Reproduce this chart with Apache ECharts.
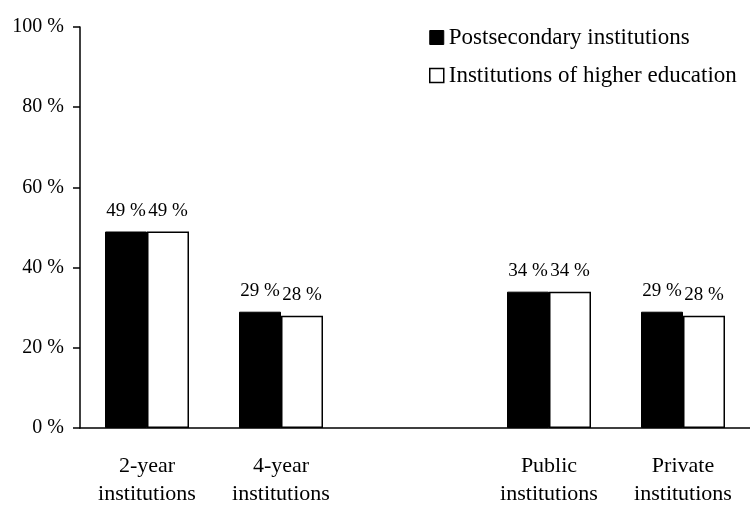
<!DOCTYPE html>
<html>
<head>
<meta charset="utf-8">
<script src="https://cdn.jsdelivr.net/npm/echarts@6/dist/echarts.min.js"></script>
<style>
  html, body { margin: 0; padding: 0; background: #fff; }
  #chart { width: 750px; height: 517px; }
</style>
</head>
<body>
<div id="chart"></div>
<script>
// empty slot between the two category groups
const categories = ['2-year\ninstitutions', '4-year\ninstitutions', '', 'Public\ninstitutions', 'Private\ninstitutions'];
const postsecondary = [49, 29, '-', 34, 29];
const higherEd = [49, 28, '-', 34, 28];
const seriesNames = ['Postsecondary institutions', 'Institutions of higher education'];
const yTicks = [0, 20, 40, 60, 80, 100];

const font = 'Liberation Serif';
const chart = echarts.init(document.getElementById('chart'));

const barLabel = {
    show: true,
    position: 'top',
    distance: 11,
    fontFamily: font,
    fontSize: 19,
    color: '#000',
    formatter: p => p.value + ' %'
};

const option = {
    animation: false,
    backgroundColor: '#fff',
    grid: {
        left: 80,
        right: -4,
        top: 27,
        bottom: 89
    },
    legend: {
        orient: 'vertical',
        left: 424,
        top: 21,
        itemWidth: 14,
        itemHeight: 14,
        itemGap: 15,
        icon: 'rect',
        textStyle: { fontFamily: font, fontSize: 23, color: '#000', padding: [0, 0, 0, 0] },
        data: [
            { name: seriesNames[0], itemStyle: { color: '#000', borderColor: '#000', borderWidth: 1 } },
            { name: seriesNames[1], itemStyle: { color: '#fff', borderColor: '#000', borderWidth: 1.5 } }
        ]
    },
    xAxis: {
        type: 'category',
        data: categories,
        axisLine: { lineStyle: { color: '#000', width: 1.5 } },
        axisTick: { show: false },
        axisLabel: {
            interval: 0,
            margin: 24,
            fontFamily: font,
            fontSize: 22,
            lineHeight: 28,
            color: '#000'
        }
    },
    yAxis: {
        type: 'value',
        min: yTicks[0],
        max: yTicks[yTicks.length - 1],
        interval: 20,
        splitLine: { show: false },
        axisLine: { show: true, lineStyle: { color: '#000', width: 1.5 } },
        axisTick: { show: true, length: 7, lineStyle: { color: '#000', width: 1.5 } },
        axisLabel: {
            margin: 16,
            fontFamily: font,
            fontSize: 20,
            color: '#000',
            formatter: v => v + ' %'
        }
    },
    series: [
        {
            name: seriesNames[0],
            type: 'bar',
            data: postsecondary,
            barWidth: 42,
            barGap: 0,
            itemStyle: { color: '#000', borderColor: '#000', borderWidth: 1 },
            label: barLabel
        },
        {
            name: seriesNames[1],
            type: 'bar',
            data: higherEd,
            barWidth: 42,
            itemStyle: { color: '#fff', borderColor: '#000', borderWidth: 1.5 },
            label: barLabel
        }
    ]
};

chart.setOption(option);
</script>
</body>
</html>
